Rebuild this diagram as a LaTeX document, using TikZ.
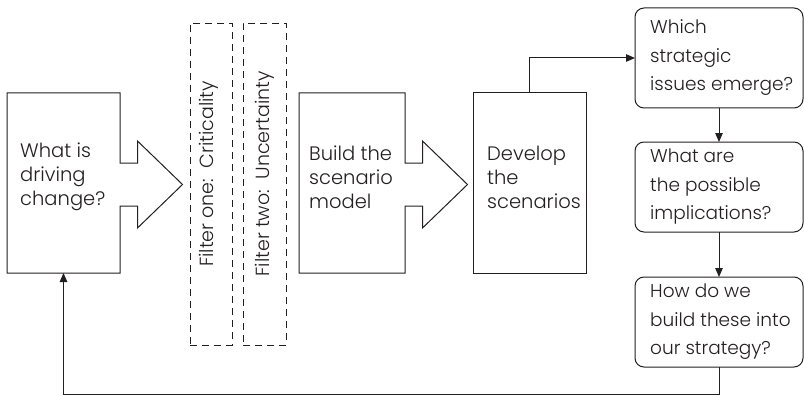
\documentclass[tikz,border=0pt]{standalone}
\usepackage{fontspec}
\setmainfont{Poppins}[UprightFont=* Light]
\usetikzlibrary{arrows.meta,calc}
\definecolor{ink}{RGB}{35,31,32}

\tikzset{
  edge/.style={draw=ink, line width=1pt, line join=miter},
  blk/.style={inner sep=0pt, outer sep=0pt, minimum height=180pt},
  qbox/.style={draw=ink, line width=1pt, rounded corners=9pt, minimum width=168pt, inner sep=0pt, outer sep=0pt},
  filt/.style={draw=ink, line width=0.9pt, dash pattern=on 7pt off 5pt, minimum width=42pt, minimum height=322pt, inner sep=0pt, outer sep=0pt},
  lbl/.style={anchor=west, align=left, inner sep=0pt, text=ink, font=\fontsize{19.5}{24}\selectfont},
  qlbl/.style={anchor=west, align=left, inner sep=0pt, text=ink, font=\fontsize{18.5}{28.5}\selectfont},
  ftxt/.style={rotate=90, inner sep=0pt, text=ink, font=\fontsize{19}{24}\selectfont},
  link/.style={draw=ink, line width=1pt, -{Triangle[length=9pt,width=7.5pt]}},
}

% a box whose right side opens into a broad block arrow
\newcommand\blockout[1]{%
  \draw[edge] (#1.north west) -- (#1.north east)
    -- ($(#1.east)+(0,-20)$) -- ++(17.5,0) -- ++(0,-22)
    -- ($(#1.east)+(62.5,1.5)$)
    -- ($(#1.east)+(17.5,45)$) -- ++(0,-22)
    -- ($(#1.east)+(0,23)$) -- (#1.south east) -- (#1.south west) -- cycle;}

\begin{document}
\begin{tikzpicture}[x=1pt,y=-1pt]
  \useasboundingbox (0,0) rectangle (804,396);
  \fill[white] (0,0) rectangle (804,396);

  % scenario-building blocks
  \node[blk, minimum width=113pt] (drv) at (63.5,183) {};
  \blockout{drv}
  \node[lbl] (drvtxt) at ($(drv.west)+(13,-6)$) {What is\\driving\\change?};

  \node[blk, minimum width=106pt] (bld) at (352,183) {};
  \blockout{bld}
  \node[lbl] (bldtxt) at ($(bld.west)+(10,-6)$) {Build the\\scenario\\model};

  \node[blk, minimum width=113pt, draw=ink, line width=1pt] (dev) at (529.5,183) {};
  \node[lbl] (devtxt) at ($(dev.west)+(14,-6)$) {Develop\\the\\scenarios};

  % the two filters
  \node[filt] (f1) at (211,184) {};
  \node[filt, minimum width=43pt] (f2) at (264.5,184) {};
  \node[ftxt] (f1txt) at (209,174) {Filter one:\ \ Criticality};
  \node[ftxt] (f2txt) at (265,174) {Filter two:\ \ Uncertainty};

  % strategic questions
  \node[qbox, minimum height=100pt] (q1) at (719,58) {};
  \node[qbox, minimum height=90pt] (q2) at (719,187) {};
  \node[qbox, minimum height=90pt] (q3) at (719,322) {};
  \node[qlbl] (q1txt) at ($(q1.west)+(15,0)$) {Which\\strategic\\issues emerge?};
  \node[qlbl] (q2txt) at ($(q2.west)+(15,0)$) {What are\\the possible\\implications?};
  \node[qlbl] (q3txt) at ($(q3.west)+(15,0)$) {How do we\\build these into\\our strategy?};

  % connectors
  \coordinate (loop) at (719,394.5);
  \draw[link] (dev.north) |- (q1.west);
  \draw[link] (q1.south) -- (q2.north);
  \draw[link] (q2.south) -- (q3.north);
  \draw[link] (q3.south) -- (loop) -| (drv.south);
\end{tikzpicture}
\end{document}
